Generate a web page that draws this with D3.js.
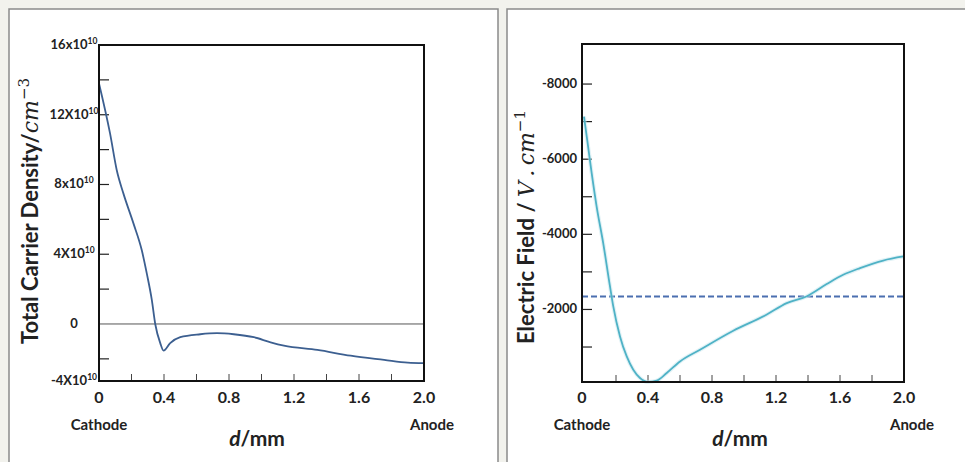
<!DOCTYPE html>
<html>
<head>
<meta charset="utf-8">
<script src="https://d3js.org/d3.v7.min.js"></script>
<style>
  body { margin: 0; background: #f2f2ed; }
  svg { display: block; }
  text { font-family: Lato, "Open Sans", sans-serif; font-weight: bold; fill: #222; }
  .math { font-family: "DejaVu Serif", "Liberation Serif", serif; font-style: italic; font-weight: normal; }
</style>
</head>
<body>
<svg width="965" height="462"></svg>
<script>
// distance from cathode (mm)
let densityD = [0, 0.068, 0.109, 0.15, 0.212, 0.263, 0.294, 0.325, 0.346, 0.377, 0.397, 0.438, 0.5, 0.623, 0.726, 0.829, 0.953, 1.056, 1.138, 1.344, 1.549, 1.755, 1.9, 2.0]
// total carrier density (x10^10 cm^-3)
let densityV = [13.8, 10.93, 8.83, 7.49, 5.77, 4.24, 2.9, 1.38, 0, -1.1, -1.53, -1.1, -0.76, -0.59, -0.53, -0.59, -0.76, -1.05, -1.24, -1.49, -1.82, -2.06, -2.22, -2.25]

let fieldD = [0, 0.02, 0.048, 0.079, 0.12, 0.1625, 0.183, 0.225, 0.267, 0.308, 0.35, 0.40, 0.454, 0.517, 0.6, 0.725, 0.933, 1.14, 1.267, 1.39, 1.517, 1.62, 1.725, 1.87, 1.996]
// electric field (V/cm)
let fieldV = [-7133, -6513, -5628, -4739, -3766, -2612, -2080, -1282, -750, -396, -176, -69, -104, -308, -617, -928, -1434, -1859, -2170, -2346, -2676, -2923, -3101, -3303, -3410]
let fieldThreshold = -2346

let xTickLabels = ["0", "0.4", "0.8", "1.2", "1.6", "2.0"]
let xMinorTicks = [0.2, 0.4, 0.6, 0.8, 1.0, 1.2, 1.4, 1.6, 1.8]

let densityTickValues = [16, 12, 8, 4, 0, -3.27]
let densityTickLabels = ["16x10", "12X10", "8x10", "4X10", "0", "-4X10"]
let densityMinorTicks = [14, 12, 10, 8, 6, 4, 2, -2]

let fieldTickValues = [-8000, -6000, -4000, -2000]
let fieldMinorTicks = [-8000, -7000, -6000, -5000, -4000, -3000, -2000, -1000]

let svg = d3.select("svg")

// panel backgrounds
svg.append("rect").attr("x", 9).attr("y", 9).attr("width", 489).attr("height", 470)
    .attr("fill", "#fff").attr("stroke", "#8a8a8a").attr("stroke-width", 1.5)
svg.append("rect").attr("x", 507).attr("y", 9).attr("width", 470).attr("height", 470)
    .attr("fill", "#fff").attr("stroke", "#8a8a8a").attr("stroke-width", 1.5)

function drawPanel(p) {
    let g = svg.append("g")
    let x = d3.scaleLinear().domain([0, 2]).range([p.left, p.right])
    let y = d3.scaleLinear().domain(p.yDomain).range([p.bottom, p.top])

    // minor x ticks (pointing up)
    g.selectAll(".xt").data(xMinorTicks).join("line")
        .attr("x1", d => x(d)).attr("x2", d => x(d))
        .attr("y1", p.bottom).attr("y2", p.bottom - 7)
        .attr("stroke", "#444").attr("stroke-width", 1)

    // y ticks (pointing right)
    g.selectAll(".yt").data(p.yMinor).join("line")
        .attr("x1", p.frameLeft).attr("x2", p.frameLeft + 10)
        .attr("y1", d => y(d)).attr("y2", d => y(d))
        .attr("stroke", "#222").attr("stroke-width", 1.2)

    // x tick labels
    g.selectAll(".xl").data(xTickLabels).join("text")
        .attr("x", (d, i) => i == 0 ? p.frameLeft : x(+d))
        .attr("y", 403)
        .attr("text-anchor", "middle")
        .style("font-size", "16px")
        .text(d => d)

    // y tick labels
    let yl = g.selectAll(".yl").data(p.yTicks).join("text")
        .attr("x", p.yLabelX)
        .attr("y", d => y(d) + 4)
        .attr("text-anchor", p.yLabelAnchor)
        .style("font-size", "13px")
    yl.append("tspan").text((d, i) => p.yLabels[i])
    yl.filter((d, i) => p.yLabels[i] != "0" && p.exp)
        .append("tspan").attr("dy", -5).style("font-size", "8.5px").text(p.exp)

    if (p.zeroLine) {
        g.append("line").attr("x1", p.frameLeft).attr("x2", p.right)
            .attr("y1", y(0)).attr("y2", y(0))
            .attr("stroke", "#555").attr("stroke-width", 1)
    }

    if (p.dashed != null) {
        g.append("line").attr("x1", p.frameLeft).attr("x2", p.right)
            .attr("y1", y(p.dashed)).attr("y2", y(p.dashed))
            .attr("stroke", "#4b6fb0").attr("stroke-width", 2)
            .attr("stroke-dasharray", "6,3")
    }

    let line = d3.line().x(d => x(d[0])).y(d => y(d[1])).curve(d3.curveMonotoneX)
    let pts = p.xs.map((d, i) => [d, p.ys[i]])
    if (p.halo) {
        g.append("path").attr("d", line(pts)).attr("fill", "none")
            .attr("stroke", p.halo).attr("stroke-width", 4).attr("opacity", 0.5)
    }
    g.append("path").attr("d", line(pts)).attr("fill", "none")
        .attr("stroke", p.color).attr("stroke-width", 1.8)

    // frame
    g.append("rect").attr("x", p.frameLeft).attr("y", p.top)
        .attr("width", p.right - p.frameLeft).attr("height", p.bottom - p.top)
        .attr("fill", "none").attr("stroke", "#111").attr("stroke-width", 2)

    g.append("text").attr("x", p.frameLeft).attr("y", 430).attr("text-anchor", "middle")
        .style("font-size", "15px").text("Cathode")
    g.append("text").attr("x", p.anodeX).attr("y", 430).attr("text-anchor", "middle")
        .style("font-size", "15px").text("Anode")

    let xt = g.append("text").attr("x", p.dX).attr("y", 446).attr("text-anchor", "middle")
        .style("font-size", "21px")
    xt.append("tspan").style("font-style", "italic").text("d")
    xt.append("tspan").text("/mm")

    let yt = g.append("text")
        .attr("transform", `translate(${p.titleX},${p.titleY}) rotate(-90)`)
        .attr("text-anchor", "middle")
        .style("font-size", "22px")
    yt.append("tspan").text(p.title)
    yt.append("tspan").attr("class", "math").text(p.titleMath)
    yt.append("tspan").attr("class", "math").style("font-style", "normal").style("font-size", "15px")
        .attr("dy", -9).text(p.titleExp)
}

drawPanel({
    left: 99, right: 424, top: 45, bottom: 381, frameLeft: 99,
    yDomain: [-3.27, 16], yTicks: densityTickValues, yLabels: densityTickLabels, yMinor: densityMinorTicks,
    exp: "10", yLabelX: 74, yLabelAnchor: "middle",
    zeroLine: true, dashed: null,
    xs: densityD, ys: densityV, color: "#3c5f90", halo: null,
    anodeX: 432, dX: 257, titleX: 38, titleY: 211,
    title: "Total Carrier Density/", titleMath: "cm", titleExp: "\u22123"
})

drawPanel({
    left: 584, right: 904, top: 44, bottom: 382, frameLeft: 582,
    yDomain: [-69, -9066], yTicks: fieldTickValues, yLabels: fieldTickValues.map(String), yMinor: fieldMinorTicks,
    exp: null, yLabelX: 577, yLabelAnchor: "end",
    zeroLine: false, dashed: fieldThreshold,
    xs: fieldD, ys: fieldV, color: "#4fb2c6", halo: "#c4e6ee",
    anodeX: 912, dX: 740, titleX: 534, titleY: 227,
    title: "Electric Field / ", titleMath: "V\u2009.\u2009cm", titleExp: "\u22121"
})
</script>
</body>
</html>
